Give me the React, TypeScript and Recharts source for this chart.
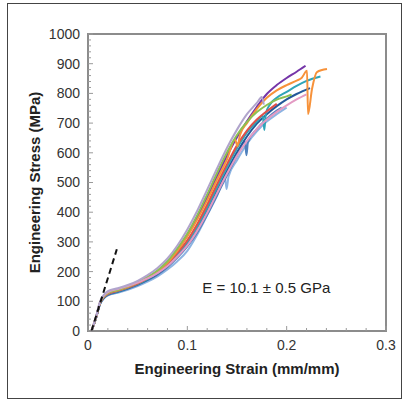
import { LineChart, Line, XAxis, YAxis, ReferenceArea, ReferenceDot } from "recharts";

// strain (mm/mm), stress (MPa) for each specimen
const purple = [
  [0.0035, 0], [0.008, 45], [0.012, 94], [0.016, 116], [0.02, 127], [0.03, 137], [0.04, 148],
  [0.05, 162], [0.06, 180], [0.07, 202], [0.08, 232], [0.09, 272], [0.1, 322], [0.11, 382],
  [0.12, 450], [0.13, 522], [0.14, 590], [0.15, 652], [0.16, 706], [0.17, 755], [0.18, 798],
  [0.19, 828], [0.2, 852], [0.21, 873], [0.219, 893],
];
const lavender = [
  [0.0035, 0], [0.008, 47], [0.012, 98], [0.016, 122], [0.02, 134], [0.03, 144], [0.04, 155],
  [0.05, 169], [0.06, 188], [0.07, 212], [0.08, 244], [0.09, 288], [0.1, 342], [0.11, 405],
  [0.12, 476], [0.13, 548], [0.14, 617], [0.15, 678], [0.16, 730], [0.17, 768], [0.175, 788],
  [0.177, 762],
];
const green = [
  [0.0035, 0], [0.008, 45], [0.012, 95], [0.016, 117], [0.02, 128], [0.03, 138], [0.04, 150],
  [0.05, 164], [0.06, 182], [0.07, 204], [0.08, 235], [0.09, 278], [0.1, 328], [0.11, 390],
  [0.12, 460], [0.13, 533], [0.14, 602], [0.15, 660], [0.16, 704], [0.17, 737], [0.18, 761],
  [0.19, 779], [0.2, 790], [0.205, 796],
];
const orange = [
  [0.0035, 0], [0.008, 45], [0.012, 94], [0.016, 116], [0.02, 127], [0.03, 137], [0.04, 148],
  [0.05, 162], [0.06, 180], [0.07, 201], [0.08, 230], [0.09, 270], [0.1, 318], [0.11, 375],
  [0.12, 440], [0.13, 510], [0.14, 578], [0.148, 645], [0.1505, 622], [0.153, 660], [0.16, 700],
  [0.17, 748], [0.18, 785], [0.19, 810], [0.2, 828], [0.21, 843], [0.215, 852], [0.2205, 876],
  [0.2215, 730], [0.2255, 815], [0.2305, 872], [0.2406, 882],
];
const red = [
  [0.0035, 0], [0.008, 44], [0.012, 93], [0.016, 114], [0.02, 125], [0.03, 135], [0.04, 146],
  [0.05, 160], [0.06, 177], [0.07, 198], [0.08, 226], [0.09, 263], [0.1, 305], [0.11, 360],
  [0.12, 425], [0.13, 495], [0.14, 562], [0.15, 625], [0.16, 675], [0.17, 712], [0.18, 740],
  [0.19, 765],
];
const teal = [
  [0.0035, 0], [0.008, 44], [0.012, 92], [0.016, 113], [0.02, 124], [0.03, 134], [0.04, 145],
  [0.05, 158], [0.06, 175], [0.07, 196], [0.08, 223], [0.09, 259], [0.1, 300], [0.11, 352],
  [0.12, 415], [0.13, 485], [0.14, 552], [0.15, 615], [0.16, 668], [0.17, 705], [0.176, 725],
  [0.1775, 677], [0.179, 732], [0.183, 762], [0.19, 785], [0.2, 805], [0.21, 825], [0.22, 842],
  [0.234, 857],
];
const navy = [
  [0.0035, 0], [0.008, 43], [0.012, 91], [0.016, 112], [0.02, 123], [0.03, 133], [0.04, 144],
  [0.05, 157], [0.06, 173], [0.07, 193], [0.08, 219], [0.09, 253], [0.1, 292], [0.11, 342],
  [0.12, 405], [0.13, 472], [0.14, 540], [0.15, 602], [0.16, 655], [0.17, 698], [0.18, 730],
  [0.19, 757], [0.2, 780], [0.21, 798], [0.2235, 818],
];
const pink = [
  [0.0035, 0], [0.008, 46], [0.012, 96], [0.016, 119], [0.02, 131], [0.03, 141], [0.04, 151],
  [0.05, 163], [0.06, 177], [0.07, 195], [0.08, 219], [0.09, 251], [0.1, 288], [0.11, 338],
  [0.12, 398], [0.13, 465], [0.14, 530], [0.15, 590], [0.16, 640], [0.17, 680], [0.18, 712],
  [0.19, 738], [0.2, 760], [0.21, 780], [0.22, 797],
];
const blue = [
  [0.0035, 0], [0.008, 43], [0.012, 90], [0.016, 111], [0.02, 121], [0.03, 131], [0.04, 142],
  [0.05, 155], [0.06, 171], [0.07, 190], [0.08, 215], [0.09, 247], [0.1, 285], [0.11, 332],
  [0.12, 392], [0.13, 458], [0.14, 525], [0.15, 590], [0.158, 638], [0.1595, 592], [0.161, 636],
  [0.17, 680], [0.18, 715], [0.19, 742], [0.195, 752],
];
const lightBlue = [
  [0.0035, 0], [0.008, 42], [0.012, 89], [0.016, 110], [0.02, 120], [0.03, 129], [0.04, 139],
  [0.05, 151], [0.06, 166], [0.07, 184], [0.08, 207], [0.09, 235], [0.1, 270], [0.11, 325],
  [0.12, 390], [0.13, 456], [0.138, 516], [0.1395, 478], [0.1415, 520], [0.15, 575],
  [0.16, 630], [0.17, 672], [0.18, 705], [0.19, 730], [0.2, 752],
];
const modulusLine = [[0.0035, 0], [0.029, 275]];

const xTicks = [0, 0.02, 0.04, 0.06, 0.08, 0.1, 0.12, 0.14, 0.16, 0.18, 0.2, 0.22, 0.24, 0.26, 0.28, 0.3];
const yTicks = [
  0, 20, 40, 60, 80, 100, 120, 140, 160, 180, 200, 220, 240, 260, 280, 300, 320, 340, 360, 380,
  400, 420, 440, 460, 480, 500, 520, 540, 560, 580, 600, 620, 640, 660, 680, 700, 720, 740, 760,
  780, 800, 820, 840, 860, 880, 900, 920, 940, 960, 980, 1000,
];

const series = [
  { name: "lightBlue", pts: lightBlue, color: "#8db4e2" },
  { name: "blue", pts: blue, color: "#4f81bd" },
  { name: "navy", pts: navy, color: "#24589a" },
  { name: "teal", pts: teal, color: "#2fa5b8" },
  { name: "red", pts: red, color: "#e0504a" },
  { name: "purple", pts: purple, color: "#7535a8" },
  { name: "orange", pts: orange, color: "#f7923a" },
  { name: "green", pts: green, color: "#8cc152" },
  { name: "pink", pts: pink, color: "#e39ac3" },
  { name: "lavender", pts: lavender, color: "#b0a4cc" },
];

const toRows = (pts: number[][]) => pts.map(([x, y]) => ({ x, y }));

const FONT = "'Liberation Sans', Arial, sans-serif";
const TICK_GAP = 8;

const XTick = (props: any) => {
  const { x, y, payload } = props;
  const v = payload.value;
  const major = Math.abs(v * 10 - Math.round(v * 10)) < 1e-6;
  const axisY = y - TICK_GAP;
  return (
    <g>
      <line x1={x} x2={x} y1={axisY} y2={axisY - (major ? 5 : 3)} stroke="#9a9a9a" />
      {major && (
        <text x={x} y={y + 1} dy="0.71em" textAnchor="middle" fontSize={14} fill="#333" fontFamily={FONT}>
          {String(Math.round(v * 10) / 10)}
        </text>
      )}
    </g>
  );
};

const YTick = (props: any) => {
  const { x, y, payload } = props;
  const v = payload.value;
  const major = v % 100 === 0;
  const axisX = x + TICK_GAP;
  return (
    <g>
      <line x1={axisX} x2={axisX + (major ? 5 : 3)} y1={y} y2={y} stroke="#9a9a9a" />
      {major && (
        <text x={x} y={y} dy="0.35em" textAnchor="end" fontSize={14} fill="#333" fontFamily={FONT}>
          {v}
        </text>
      )}
    </g>
  );
};

export default function App() {
  return (
    <div style={{ position: "absolute", left: 0, top: 0, width: 406, height: 403, background: "#fff" }}>
      <div
        style={{
          position: "absolute", left: 7, top: 3, width: 395, height: 396,
          border: "1.5px solid #444", boxSizing: "border-box",
        }}
      />
      <div style={{ position: "absolute", left: 0, top: 0 }}>
        <LineChart width={406} height={403} margin={{ top: 34, right: 20, left: 20, bottom: 22 }}>
          <XAxis
            type="number" dataKey="x" domain={[0, 0.3]} ticks={xTicks} interval={0}
            tickSize={0} tickMargin={TICK_GAP} tick={<XTick />} axisLine={false} tickLine={false} height={50}
            label={{
              value: "Engineering Strain (mm/mm)", position: "insideBottom", offset: 7,
              style: { fontSize: 15, fontWeight: "bold", fill: "#222", fontFamily: FONT },
            }}
          />
          <YAxis
            type="number" dataKey="y" domain={[0, 1000]} ticks={yTicks} interval={0}
            tickSize={0} tickMargin={TICK_GAP} tick={<YTick />} axisLine={false} tickLine={false} width={68}
            label={{
              value: "Engineering Stress (MPa)", position: "insideLeft", angle: -90, offset: 15,
              style: { fontSize: 15, fontWeight: "bold", fill: "#222", fontFamily: FONT, textAnchor: "middle" },
            }}
          />
          <ReferenceArea x1={0} x2={0.3} y1={0} y2={1000} fill="none" stroke="#8c8c8c" strokeWidth={2} />
          {series.map((s) => (
            <Line
              key={s.name} data={toRows(s.pts)} dataKey="y" type="monotone" stroke={s.color}
              strokeWidth={2} dot={false} activeDot={false} isAnimationActive={false}
            />
          ))}
          <Line
            data={toRows(modulusLine)} dataKey="y" type="linear" stroke="#111" strokeWidth={2}
            strokeDasharray="6 4" dot={false} activeDot={false} isAnimationActive={false}
          />
          <ReferenceDot
            x={0.1151} y={147} r={0} fill="none" stroke="none"
            label={{
              value: "E = 10.1 ± 0.5 GPa", position: "right", offset: 0,
              style: { fontSize: 15, fill: "#222", fontFamily: FONT },
            }}
          />
        </LineChart>
      </div>
    </div>
  );
}
